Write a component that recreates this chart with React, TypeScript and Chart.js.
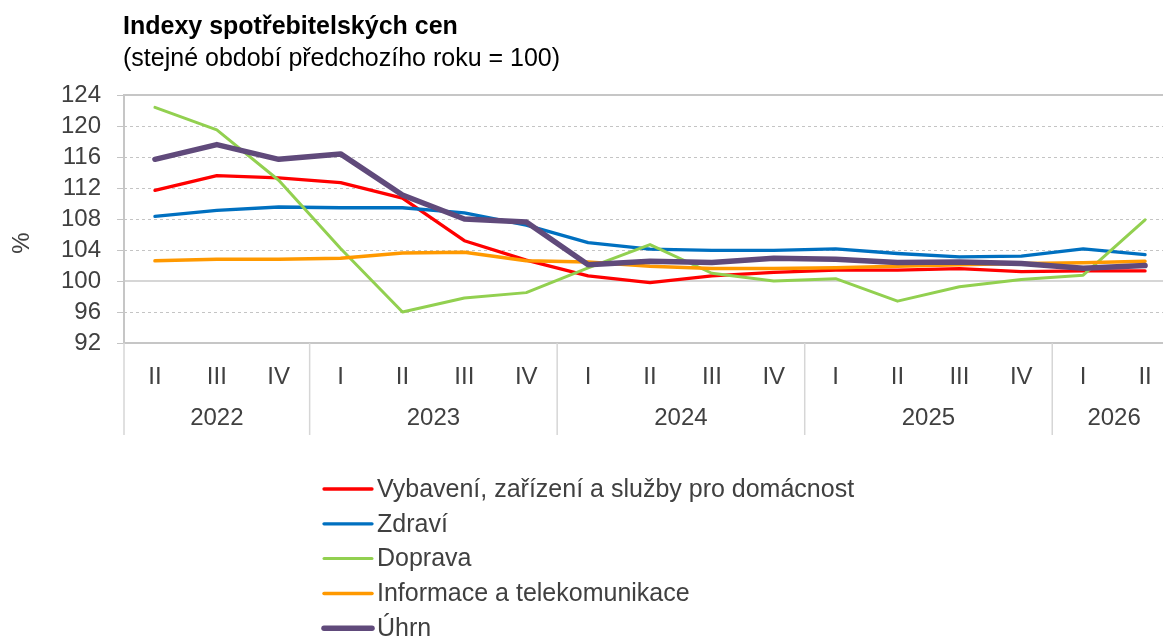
import { useEffect, useRef } from 'react';
import { Chart, registerables } from 'chart.js';

Chart.register(...registerables);

const chartTitle = 'Indexy spotřebitelských cen';
const chartSubtitle = '(stejné období předchozího roku = 100)';
const yAxisLabel = '%';

const quarterLabels = ['II', 'III', 'IV', 'I', 'II', 'III', 'IV', 'I', 'II', 'III', 'IV', 'I', 'II', 'III', 'IV', 'I', 'II'];
const yearLabels = ['2022', '2023', '2024', '2025', '2026'];
const yearSpans = [3, 4, 4, 4, 2];

const seriesNames = [
  'Vybavení, zařízení a služby pro domácnost',
  'Zdraví',
  'Doprava',
  'Informace a telekomunikace',
  'Úhrn',
];
const vybaveni = [111.7, 113.6, 113.3, 112.7, 110.7, 105.2, 102.7, 100.65, 99.8, 100.65, 101.1, 101.4, 101.4, 101.6, 101.2, 101.3, 101.3];
const zdravi = [108.35, 109.1, 109.55, 109.45, 109.45, 108.8, 107.2, 104.95, 104.1, 103.95, 103.95, 104.15, 103.55, 103.1, 103.2, 104.15, 103.4];
const doprava = [122.4, 119.5, 113.0, 104.2, 96.0, 97.8, 98.5, 101.7, 104.7, 101.0, 100.0, 100.3, 97.4, 99.25, 100.2, 100.75, 107.9];
const informace = [102.6, 102.8, 102.8, 102.95, 103.6, 103.7, 102.6, 102.45, 101.9, 101.6, 101.6, 101.7, 101.9, 102.1, 102.25, 102.35, 102.55];
const uhrn = [115.7, 117.6, 115.7, 116.4, 111.1, 108.0, 107.6, 102.1, 102.55, 102.4, 102.95, 102.8, 102.4, 102.45, 102.25, 101.65, 102.0];

const yMin = 92;
const yMax = 124;
const yStep = 4;
const referenceValue = 100;

const W = 1190;
const H = 638;
const FONT = "'Liberation Sans', Arial, Helvetica, sans-serif";
const TEXT = '#404040';

const decorPlugin = {
  id: 'decor',
  beforeDatasetsDraw(chart: any) {
    const { ctx, chartArea: a, scales } = chart;
    const y = scales.y;
    ctx.save();
    const y100 = y.getPixelForValue(referenceValue);
    ctx.strokeStyle = '#d6d6d6';
    ctx.lineWidth = 2;
    ctx.beginPath();
    ctx.moveTo(a.left, y100);
    ctx.lineTo(a.right, y100);
    ctx.stroke();
    ctx.strokeStyle = '#c6c6c6';
    ctx.lineWidth = 2;
    ctx.strokeRect(a.left, a.top, a.right - a.left, a.bottom - a.top);
    ctx.restore();
  },
  afterDraw(chart: any) {
    const { ctx, chartArea: a, scales } = chart;
    const x = scales.x;
    ctx.save();
    // titles
    ctx.fillStyle = '#000000';
    ctx.textAlign = 'left';
    ctx.textBaseline = 'alphabetic';
    ctx.font = `bold 25px ${FONT}`;
    ctx.fillText(chartTitle, a.left - 1, 34);
    ctx.font = `25px ${FONT}`;
    ctx.fillText(chartSubtitle, a.left - 1, 66);

    // y axis title
    ctx.fillStyle = TEXT;
    ctx.font = `24px ${FONT}`;
    ctx.save();
    ctx.translate(22, 243);
    ctx.rotate(-Math.PI / 2);
    ctx.textAlign = 'center';
    ctx.textBaseline = 'middle';
    ctx.fillText(yAxisLabel, 0, 0);
    ctx.restore();

    // year groups and separators
    ctx.strokeStyle = '#d6d6d6';
    ctx.lineWidth = 1.5;
    ctx.textAlign = 'center';
    ctx.textBaseline = 'middle';
    let start = 0;
    yearLabels.forEach((yl, g) => {
      const end = start + yearSpans[g] - 1;
      const sepX = start === 0 ? a.left : (x.getPixelForValue(start - 1) + x.getPixelForValue(start)) / 2;
      ctx.beginPath();
      ctx.moveTo(sepX, a.bottom);
      ctx.lineTo(sepX, 435);
      ctx.stroke();
      const cx = (x.getPixelForValue(start) + x.getPixelForValue(end)) / 2;
      ctx.fillText(yl, cx, 418);
      start = end + 1;
    });

    // legend
    ctx.font = `25px ${FONT}`;
    ctx.textAlign = 'left';
    ctx.textBaseline = 'middle';
    ctx.lineCap = 'round';
    chart.data.datasets.forEach((ds: any, i: number) => {
      const ry = 489 + i * 34.8;
      ctx.strokeStyle = ds.borderColor;
      ctx.lineWidth = ds.borderWidth;
      ctx.beginPath();
      ctx.moveTo(324, ry);
      ctx.lineTo(372, ry);
      ctx.stroke();
      ctx.fillStyle = TEXT;
      ctx.fillText(ds.label, 377, ry + 1);
    });
    ctx.restore();
  },
};

export default function App() {
  const ref = useRef<HTMLCanvasElement | null>(null);

  useEffect(() => {
    if (!ref.current) return;
    Chart.defaults.font.family = FONT;
    const mk = (label: string, data: number[], color: string, width: number, order: number) => ({
      label,
      data,
      borderColor: color,
      backgroundColor: color,
      borderWidth: width,
      pointRadius: 0,
      pointHoverRadius: 0,
      tension: 0,
      fill: false,
      borderCapStyle: 'round',
      borderJoinStyle: 'round',
      order,
    });
    const chart = new Chart(ref.current, {
      type: 'line',
      data: {
        labels: quarterLabels,
        datasets: [
          mk(seriesNames[0], vybaveni, '#ff0000', 3.3, 5),
          mk(seriesNames[1], zdravi, '#0070c0', 3.3, 4),
          mk(seriesNames[2], doprava, '#92d050', 3, 3),
          mk(seriesNames[3], informace, '#ff9900', 3.5, 2),
          mk(seriesNames[4], uhrn, '#604a7b', 5.5, 1),
        ] as any,
      },
      options: {
        responsive: false,
        animation: false,
        events: [],
        layout: { padding: { left: 0, right: 14, top: 95, bottom: 245 } },
        plugins: {
          legend: { display: false },
          tooltip: { enabled: false },
          title: { display: false },
        },
        scales: {
          x: {
            type: 'category',
            offset: true,
            grid: { display: false, drawTicks: false },
            border: { display: false },
            ticks: {
              color: TEXT,
              font: { size: 24, family: FONT },
              padding: 20,
              maxRotation: 0,
              autoSkip: false,
            },
            afterFit: (s: any) => {
              s.height = 50;
            },
          },
          y: {
            min: yMin,
            max: yMax,
            ticks: {
              stepSize: yStep,
              color: TEXT,
              font: { size: 24, family: FONT, lineHeight: 1 },
              padding: 16,
              autoSkip: false,
              maxTicksLimit: 20,
            },
            grid: {
              color: '#c4c4c4',
              lineWidth: 1,
              tickColor: '#c4c4c4',
              tickLength: 7,
              tickBorderDash: [],
            },
            border: { display: false, dash: [3, 3] },
            afterFit: (s: any) => {
              s.width = 124;
            },
          },
        },
      } as any,
      plugins: [decorPlugin],
    });
    return () => chart.destroy();
  }, []);

  return (
    <div style={{ position: 'fixed', left: 0, top: 0, width: W, height: H, background: '#ffffff', overflow: 'hidden' }}>
      <canvas ref={ref} width={W} height={H} style={{ width: W, height: H, display: 'block' }} />
    </div>
  );
}
